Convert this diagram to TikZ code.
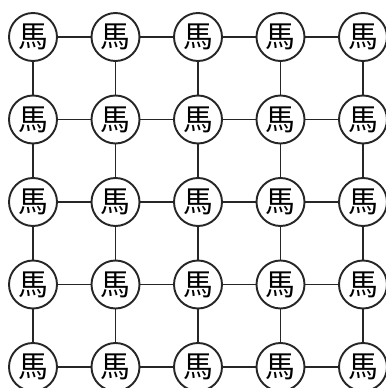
\documentclass[tikz,border=0pt]{standalone}
\usepackage{fontspec}
\newfontfamily\cjk{Noto Sans CJK TC}
\usetikzlibrary{positioning}

\tikzset{
  horse/.style={draw=black!85, circle, line width=1.1pt, minimum size=0.96cm, inner sep=0pt,
    font=\cjk\fontsize{17}{17}\selectfont},
  link/.style={draw=black!85, line width=1.1pt}
}

\begin{document}
\begin{tikzpicture}
\useasboundingbox (0,0) rectangle (7.72,7.76);
% Draw the 5x5 grid of pieces
\foreach \i in {0,...,4} {
    \foreach \j in {0,...,4} {
        \node[horse] (h-\i-\j) at (0.66+1.65*\i, 7.02-1.65*\j) {馬};
    }
}

% Connect neighbours
\foreach \i [evaluate=\i as \n using int(\i+1)] in {0,...,3} {
    \foreach \j in {0,...,4} {
        \draw[link] (h-\i-\j) -- (h-\n-\j);
        \draw[link] (h-\j-\i) -- (h-\j-\n);
    }
}
\end{tikzpicture}
\end{document}
